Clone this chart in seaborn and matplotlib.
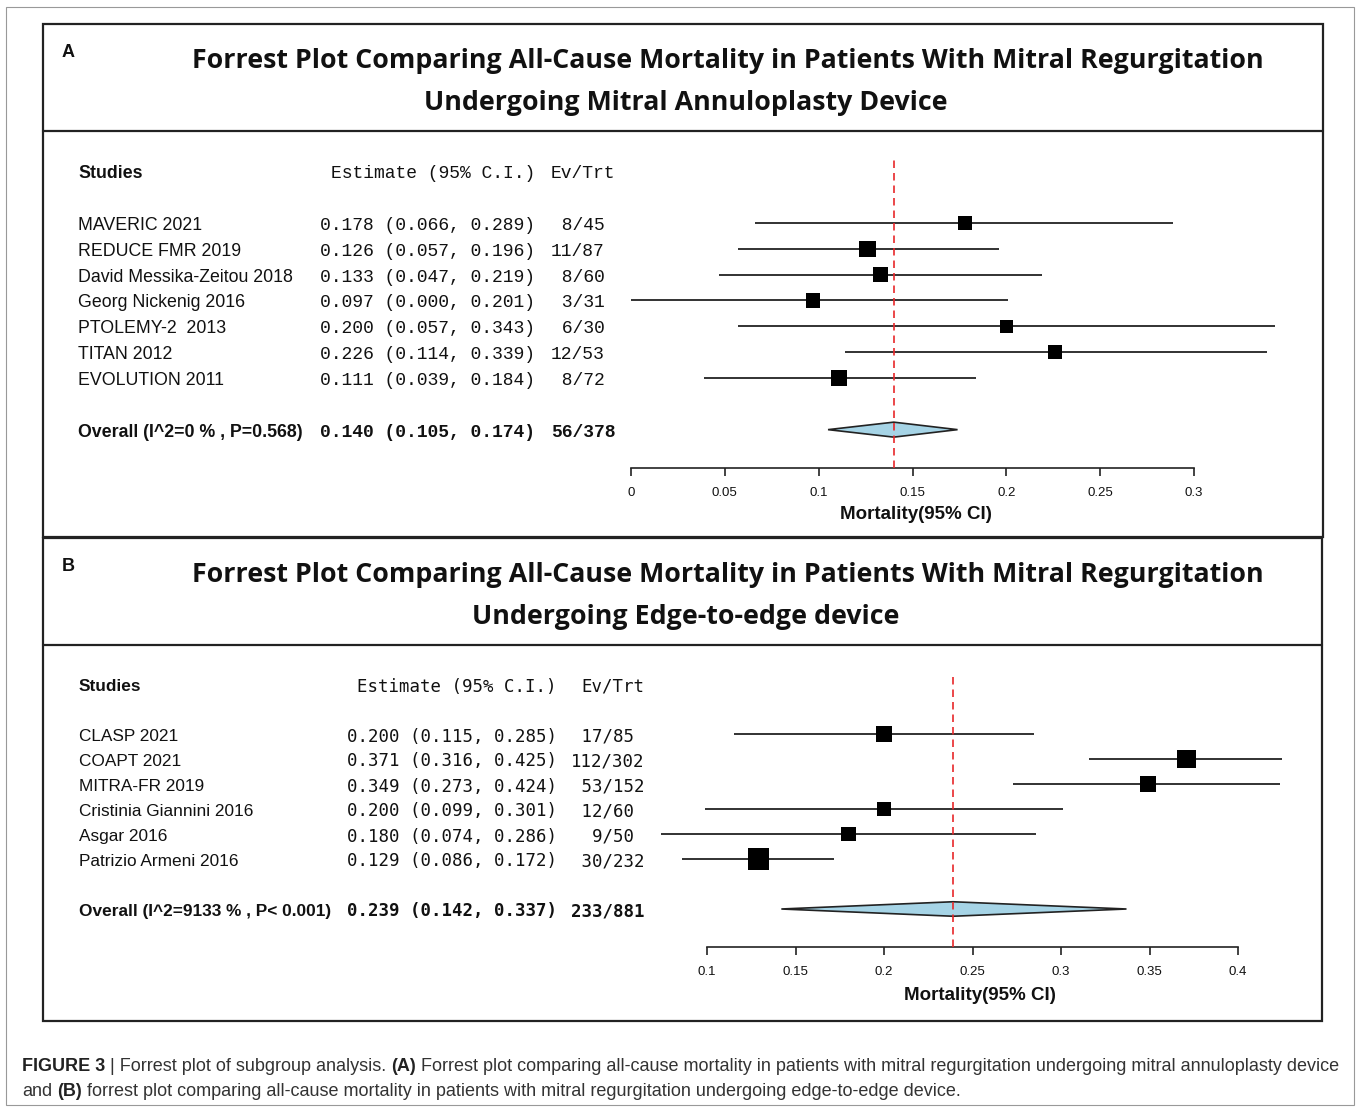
import matplotlib
matplotlib.use("Agg")
import matplotlib.pyplot as plt
import matplotlib.transforms as mtransforms
from matplotlib.patches import Polygon, Rectangle
import numpy as np
import pandas as pd
import seaborn as sns

# Panel A: mitral annuloplasty device
a_studies = ["MAVERIC 2021", "REDUCE FMR 2019", "David Messika-Zeitou 2018",
             "Georg Nickenig 2016", "PTOLEMY-2  2013", "TITAN 2012", "EVOLUTION 2011"]
a_est = [0.178, 0.126, 0.133, 0.097, 0.200, 0.226, 0.111]
a_lo = [0.066, 0.057, 0.047, 0.000, 0.057, 0.114, 0.039]
a_hi = [0.289, 0.196, 0.219, 0.201, 0.343, 0.339, 0.184]
a_events = [8, 11, 8, 3, 6, 12, 8]
a_total = [45, 87, 60, 31, 30, 53, 72]
a_overall = [0.140, 0.105, 0.174]
a_overall_n = [56, 378]
a_overall_label = "Overall (I^2=0 % , P=0.568)"
a_ticks = [0, 0.05, 0.1, 0.15, 0.2, 0.25, 0.3]
a_title = ["Forrest Plot Comparing All-Cause Mortality in Patients With Mitral Regurgitation",
           "Undergoing Mitral Annuloplasty Device"]

# Panel B: edge-to-edge device
b_studies = ["CLASP 2021", "COAPT 2021", "MITRA-FR 2019", "Cristinia Giannini 2016",
             "Asgar 2016", "Patrizio Armeni 2016"]
b_est = [0.200, 0.371, 0.349, 0.200, 0.180, 0.129]
b_lo = [0.115, 0.316, 0.273, 0.099, 0.074, 0.086]
b_hi = [0.285, 0.425, 0.424, 0.301, 0.286, 0.172]
b_events = [17, 112, 53, 12, 9, 30]
b_total = [85, 302, 152, 60, 50, 232]
b_overall = [0.239, 0.142, 0.337]
b_overall_n = [233, 881]
b_overall_label = "Overall (I^2=9133 % , P< 0.001)"
b_ticks = [0.1, 0.15, 0.2, 0.25, 0.3, 0.35, 0.4]
b_title = ["Forrest Plot Comparing All-Cause Mortality in Patients With Mitral Regurgitation",
           "Undergoing Edge-to-edge device"]

caption_1 = [("FIGURE 3", True), ("| Forrest plot of subgroup analysis.", False), ("(A)", True),
             ("Forrest plot comparing all-cause mortality in patients with mitral regurgitation "
              "undergoing mitral annuloplasty device", False)]
caption_2 = [("and", False), ("(B)", True),
             ("forrest plot comparing all-cause mortality in patients with mitral regurgitation "
              "undergoing edge-to-edge device.", False)]

W, H = 1357, 1108
sns.set_theme(style="white")
plt.rcParams["font.family"] = ["Liberation Sans", "DejaVu Sans"]
INK = "#111111"
LINE = "#222222"
DY = 2.5  # text sits a little lower than a plain va="center" box

fig = plt.figure(figsize=(W / 100, H / 100), dpi=100)
bg = fig.add_axes([0, 0, 1, 1])
bg.set_xlim(0, W)
bg.set_ylim(H, 0)
bg.axis("off")
renderer = fig.canvas.get_renderer()


def width_of(t):
    return t.get_window_extent(renderer).width


def fit(t, target):
    t.set_fontsize(t.get_fontsize() * target / width_of(t))


# outer frame
bg.add_patch(Rectangle((6, 7), 1348, 1098, fill=False, lw=0.8, ec="#999999"))


def panel(studies, est, lo, hi, events, total, overall, overall_n, overall_label,
          ticks, letter, title, L):
    x0, y0, x1, y1, ysep = L["box"]
    bg.add_patch(Rectangle((x0, y0), x1 - x0, y1 - y0, fill=False, lw=1.6, ec="#222222"))
    bg.plot([x0, x1], [ysep, ysep], color="#222222", lw=1.6)
    bg.text(62, y0 + 26 + DY, letter, fontsize=13, fontweight="bold", va="center", color=INK)
    t = bg.text(728, L["title_y"][0] + DY, title[0], family="Open Sans", fontweight="bold",
                fontsize=16, ha="center", va="center", color=INK)
    fit(t, 1068)
    bg.text(686, L["title_y"][1] + DY, title[1], family="Open Sans", fontweight="bold",
            fontsize=t.get_fontsize(), ha="center", va="center", color=INK)

    t0px, t1px = L["tick_px"]
    scale = (t1px - t0px) / (ticks[-1] - ticks[0])
    left, right = L["ax_x"]
    row0, step, top, axis_y = L["row0"], L["step"], L["top"], L["axis_y"]
    ax = fig.add_axes([left / W, 1 - axis_y / H, (right - left) / W, (axis_y - top) / H])
    ax.set_facecolor("none")

    k = len(studies)
    df = pd.DataFrame({"est": est, "lo": lo, "hi": hi, "row": np.arange(k)})
    df["weight"] = 1 / ((df["hi"] - df["lo"]) / 3.92) ** 2
    ov_row = k + 1

    ax.hlines(df["row"], df["lo"], df["hi"], color=LINE, lw=1.3, zorder=2)
    sns.scatterplot(data=df, x="est", y="row", size="weight", sizes=L["sizes"], marker="s",
                    color="black", edgecolor="black", linewidth=0, legend=False, ax=ax, zorder=4)
    ax.add_patch(Polygon([(overall[1], ov_row), (overall[0], ov_row - 0.29),
                          (overall[2], ov_row), (overall[0], ov_row + 0.29)],
                         closed=True, fc="#a6d4e6", ec="#222222", lw=1.2, zorder=3))
    ax.axvline(overall[0], color="#e8272a", ls=(0, (4.5, 3)), lw=1.2, zorder=5)

    ax.set_xlim(ticks[0] + (left - t0px) / scale, ticks[0] + (right - t0px) / scale)
    ax.set_ylim((axis_y - row0) / step, (top - row0) / step)
    for s in ["top", "left", "right"]:
        ax.spines[s].set_visible(False)
    ax.spines["bottom"].set_bounds(ticks[0], ticks[-1])
    ax.spines["bottom"].set_linewidth(1.2)
    ax.spines["bottom"].set_color(LINE)
    ax.set_xticks(ticks)
    ax.set_xticklabels([f"{v:g}" for v in ticks])
    ax.tick_params(axis="x", bottom=True, direction="out", length=6, width=1.2, color=LINE,
                   labelsize=9.5, pad=8, labelcolor=INK)
    ax.set_yticks([])
    ax.set_xlabel("")
    ax.set_ylabel("")
    bg.text(L["xlabel"][0], L["xlabel"][1] + DY, "Mortality(95% CI)", fontsize=13.5,
            fontweight="bold", ha="center", va="center", color=INK)

    # text columns
    tr = mtransforms.blended_transform_factory(bg.transData, ax.transData)
    tr = mtransforms.offset_copy(tr, fig=fig, y=-DY, units="dots")
    mono, msize, nsize = L["mono"], L["mono_size"], L["name_size"]
    wd = len(str(max(events + [overall_n[0]])))
    kw = dict(transform=tr, va="center", ha="left", clip_on=False, color=INK)
    ax.text(L["name_x"], -2, "Studies", fontsize=nsize, fontweight="bold", **kw)
    ax.text(L["head_x"][0], -2, "Estimate (95% C.I.)", family=mono, fontsize=msize, **kw)
    ax.text(L["head_x"][1], -2, "Ev/Trt", family=mono, fontsize=msize, **kw)
    for i in range(k):
        ax.text(L["name_x"], i, studies[i], fontsize=nsize, **kw)
        ax.text(L["est_x"], i, f"{est[i]:.3f} ({lo[i]:.3f}, {hi[i]:.3f})",
                family=mono, fontsize=msize, **kw)
        ax.text(L["ev_x"], i, f"{events[i]:>{wd}}/{total[i]}", family=mono, fontsize=msize, **kw)
    ax.text(L["name_x"], ov_row, overall_label, fontsize=nsize, fontweight="bold", **kw)
    ax.text(L["est_x"], ov_row, f"{overall[0]:.3f} ({overall[1]:.3f}, {overall[2]:.3f})",
            family=mono, fontsize=msize, fontweight="bold", **kw)
    ax.text(L["ev_x"], ov_row, f"{overall_n[0]:>{wd}}/{overall_n[1]}", family=mono,
            fontsize=msize, fontweight="bold", **kw)


layout_a = dict(box=(43, 24, 1323, 537, 131), title_y=(58, 100), tick_px=(631, 1194),
                ax_x=(595, 1315), row0=223, step=25.83, top=160, axis_y=468,
                sizes=(85, 140), xlabel=(916, 512), mono="Liberation Mono", mono_size=13,
                name_size=12.8, name_x=78, est_x=320, ev_x=551, head_x=(331, 551))
layout_b = dict(box=(43, 538, 1322, 1021, 645), title_y=(572, 614), tick_px=(707, 1238),
                ax_x=(640, 1315), row0=734, step=25, top=675, axis_y=947,
                sizes=(105, 240), xlabel=(980, 993), mono="DejaVu Sans Mono", mono_size=12.5,
                name_size=12.4, name_x=79, est_x=347, ev_x=571, head_x=(357, 581))

panel(a_studies, a_est, a_lo, a_hi, a_events, a_total, a_overall, a_overall_n,
      a_overall_label, a_ticks, "A", a_title, layout_a)
panel(b_studies, b_est, b_lo, b_hi, b_events, b_total, b_overall, b_overall_n,
      b_overall_label, b_ticks, "B", b_title, layout_b)


# caption with mixed bold / regular runs
def rich_line(pieces, x, y, size, draw=True):
    probe1 = bg.text(0, 0, "a a", fontsize=size)
    probe2 = bg.text(0, 0, "aa", fontsize=size)
    gap = width_of(probe1) - width_of(probe2)
    probe1.remove()
    probe2.remove()
    start = x
    for text, bold in pieces:
        t = bg.text(x, y, text, fontsize=size, fontweight="bold" if bold else "normal",
                    ha="left", va="center", color="#222222" if bold else "#333333")
        x += width_of(t) + gap
        if not draw:
            t.remove()
    return x - gap - start


cap_size = 12 * 1317 / rich_line(caption_1, 22, 1064, 12, draw=False)
rich_line(caption_1, 22, 1064 + DY, cap_size)
rich_line(caption_2, 22, 1089 + DY, cap_size)

fig.savefig("out.png", dpi=100)
